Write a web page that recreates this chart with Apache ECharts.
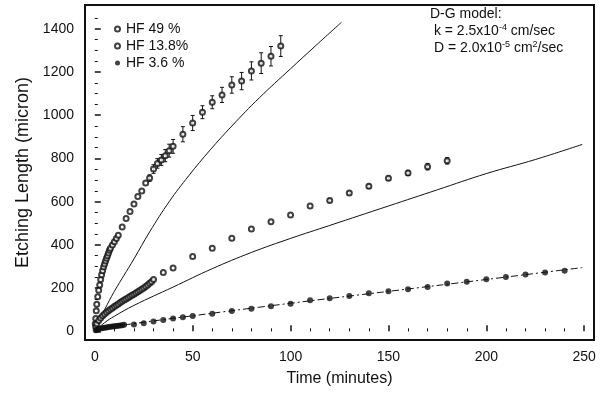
<!DOCTYPE html>
<html>
<head>
<meta charset="utf-8">
<script src="https://cdn.jsdelivr.net/npm/echarts@6/dist/echarts.min.js"></script>
<style>
  html, body { margin: 0; padding: 0; background: #fff; }
  #grafico { width: 605px; height: 394px; }
</style>
</head>
<body>
<div id="grafico"></div>
<script>
// HF 49 %
var hf49Time = [0.25, 0.5, 0.75, 1, 1.5, 2, 2.5, 3, 3.5, 4, 4.5, 5, 5.5, 6, 6.5, 7, 7.5, 8, 9, 10, 11, 12, 14, 16, 18, 20, 22, 24, 26, 28, 30, 32, 34, 36, 38, 40, 45, 50, 55, 60, 65, 70, 75, 80, 85, 90, 95];
var hf49Len = [35, 60, 95, 125, 160, 190, 215, 240, 262, 280, 298, 312, 325, 338, 350, 363, 375, 385, 400, 415, 430, 445, 483, 522, 555, 589, 624, 649, 686, 709, 751, 777, 793, 813, 836, 856, 912, 964, 1014, 1060, 1094, 1140, 1158, 1205, 1241, 1273, 1320];
var hf49Err = [0, 0, 0, 0, 0, 0, 0, 0, 0, 0, 0, 0, 0, 0, 0, 0, 0, 0, 0, 0, 0, 0, 0, 0, 0, 0, 0, 0, 0, 15, 20, 22, 25, 28, 30, 32, 35, 35, 30, 30, 35, 38, 40, 42, 48, 45, 48];

// HF 13.8 %
var hf138Time = [0.5, 1, 2, 3, 4, 5, 6, 7, 8, 9, 10, 11, 12, 13, 14, 15, 16, 17, 18, 19, 20, 21, 22, 23, 24, 25, 26, 27, 28, 29, 30, 35, 40, 50, 60, 70, 80, 90, 100, 110, 120, 130, 140, 150, 160, 170, 180];
var hf138Len = [20, 35, 50, 62, 72, 80, 88, 95, 102, 108, 115, 121, 127, 133, 139, 145, 150, 156, 161, 167, 172, 178, 183, 189, 195, 201, 208, 215, 222, 230, 240, 272, 293, 346, 385, 431, 474, 507, 538, 580, 606, 640, 671, 708, 733, 762, 789];
var hf138Err = [0, 0, 0, 0, 0, 0, 0, 0, 0, 0, 0, 0, 0, 0, 0, 0, 0, 0, 0, 0, 0, 0, 0, 0, 0, 0, 0, 0, 0, 0, 0, 0, 0, 0, 0, 0, 0, 0, 0, 0, 8, 8, 10, 10, 12, 15, 15];

// HF 3.6 %
var hf36Time = [0.5, 1, 2, 3, 4, 5, 6, 7, 8, 9, 10, 11, 12, 13, 14, 15, 20, 25, 30, 35, 40, 45, 50, 60, 70, 80, 90, 100, 110, 120, 130, 140, 150, 160, 170, 180, 190, 200, 210, 220, 230, 240];
var hf36Len = [5, 8, 11, 13, 15, 17, 18, 20, 21, 22, 24, 25, 26, 27, 28, 30, 32, 37, 46, 52, 59, 65, 71, 82, 94, 105, 116, 128, 144, 153, 164, 176, 185, 195, 205, 221, 230, 241, 252, 263, 272, 280];

// D-G model curves
var model49Time = [0, 2, 5, 10, 20, 28, 38, 48, 59, 70, 84, 100, 112, 126];
var model49Len = [0, 45, 100, 185, 335, 460, 600, 720, 840, 950, 1080, 1215, 1315, 1430];
var model138Time = [0, 5, 10, 20, 40, 60, 80, 100, 120, 150, 175, 200, 225, 249];
var model138Len = [0, 40, 70, 120, 205, 290, 365, 430, 490, 580, 655, 730, 795, 865];
var fit36Time = [0, 5, 10, 20, 50, 100, 150, 200, 249];
var fit36Len = [0, 14, 22, 36, 72, 130, 185, 240, 295];

// ticks
var xTickLabels = [0, 50, 100, 150, 200, 250];
var xMinorTicks = [10, 20, 30, 40, 60, 70, 80, 90, 110, 120, 130, 140, 160, 170, 180, 190, 210, 220, 230, 240];
var yTickLabels = [0, 200, 400, 600, 800, 1000, 1200, 1400];
var yMinorTicks = [50, 100, 150, 250, 300, 350, 450, 500, 550, 650, 700, 750, 850, 900, 950, 1050, 1100, 1150, 1250, 1300, 1350, 1450];

var legendNames = ['HF 49 %', 'HF 13.8%', 'HF 3.6 %'];

var FONT = 'Liberation Sans';
var INK = '#111';

function zip(a, b, c) {
  return a.map(function (v, i) { return c ? [v, b[i], c[i]] : [v, b[i]]; });
}

function errorBars(params, api) {
  var err = api.value(2);
  if (!err) return null;
  var x = api.value(0), y = api.value(1);
  var hi = api.coord([x, y + err]);
  var lo = api.coord([x, y - err]);
  var style = { stroke: INK, lineWidth: 1 };
  return {
    type: 'group',
    children: [
      { type: 'line', shape: { x1: hi[0], y1: hi[1], x2: lo[0], y2: lo[1] }, style: style },
      { type: 'line', shape: { x1: hi[0] - 2, y1: hi[1], x2: hi[0] + 2, y2: hi[1] }, style: style },
      { type: 'line', shape: { x1: lo[0] - 2, y1: lo[1], x2: lo[0] + 2, y2: lo[1] }, style: style }
    ]
  };
}

var chartDom = document.getElementById('grafico');
var myChart = echarts.init(chartDom, null, { renderer: 'canvas' });

var baseX = {
  type: 'value', min: -5, max: 255,
  splitLine: { show: false },
  axisLine: { show: false }
};
var baseY = {
  type: 'value', min: -40, max: 1510,
  splitLine: { show: false },
  axisLine: { show: false }
};
var plain = function (v) { return String(v); };

var option = {
  animation: false,
  textStyle: { fontFamily: FONT },
  grid: {
    left: 85, right: 11, top: 5, bottom: 54,
    show: true, borderColor: INK, borderWidth: 2, backgroundColor: 'transparent'
  },
  legend: {
    data: legendNames,
    orient: 'vertical',
    left: 109, top: 17,
    itemWidth: 5, itemHeight: 5, itemGap: 3,
    textStyle: { fontFamily: FONT, fontSize: 14, color: INK, lineHeight: 14, padding: [0, 0, 0, 1] }
  },
  xAxis: [
    Object.assign({}, baseX, {
      name: 'Time (minutes)', nameLocation: 'middle', nameGap: 31,
      nameTextStyle: { fontFamily: FONT, fontSize: 16, color: INK },
      axisTick: { inside: true, length: 6, lineStyle: { color: INK, width: 1.5 }, customValues: xTickLabels },
      axisLabel: { fontFamily: FONT, fontSize: 14, color: INK, margin: 10, customValues: xTickLabels, formatter: plain }
    }),
    Object.assign({}, baseX, {
      position: 'bottom',
      axisTick: { inside: true, length: 3, lineStyle: { color: INK }, customValues: xMinorTicks },
      axisLabel: { show: false }
    })
  ],
  yAxis: [
    Object.assign({}, baseY, {
      name: 'Etching Length (micron)', nameLocation: 'middle', nameGap: 48,
      nameTextStyle: { fontFamily: FONT, fontSize: 18, color: INK },
      axisTick: { inside: true, length: 6, lineStyle: { color: INK, width: 1.5 }, customValues: yTickLabels },
      axisLabel: { fontFamily: FONT, fontSize: 14, color: INK, margin: 11, customValues: yTickLabels, formatter: plain }
    }),
    Object.assign({}, baseY, {
      position: 'left',
      axisTick: { inside: true, length: 3, lineStyle: { color: INK }, customValues: yMinorTicks },
      axisLabel: { show: false }
    })
  ],
  graphic: [
    {
      type: 'text', left: 430, top: 6,
      style: {
        text: 'D-G model:\n {n|k = 2.5x10}{s|-4}{n| cm/sec}\n {n|D = 2.0x10}{s|-5}{n| cm}{s|2}{n|/sec}',
        fontFamily: FONT, fontSize: 14, fill: INK, lineHeight: 17,
        rich: {
          n: { fontFamily: FONT, fontSize: 14, fill: INK, lineHeight: 17 },
          s: { fontFamily: FONT, fontSize: 9, fill: INK, lineHeight: 17, verticalAlign: 'top', padding: [0, 0, 8, 0] }
        }
      }
    }
  ],
  series: [
    {
      type: 'line', name: 'model49', data: zip(model49Time, model49Len), smooth: 0.4,
      symbol: 'none', lineStyle: { color: INK, width: 1 }, silent: true
    },
    {
      type: 'line', name: 'model138', data: zip(model138Time, model138Len), smooth: 0.4,
      symbol: 'none', lineStyle: { color: INK, width: 1 }, silent: true
    },
    {
      type: 'line', name: 'fit36', data: zip(fit36Time, fit36Len), smooth: 0.4,
      symbol: 'none', lineStyle: { color: INK, width: 1, type: [7, 3, 2, 3] }, silent: true
    },
    {
      type: 'custom', name: 'err49', renderItem: errorBars,
      data: zip(hf49Time, hf49Len, hf49Err), z: 3
    },
    {
      type: 'custom', name: 'err138', renderItem: errorBars,
      data: zip(hf138Time, hf138Len, hf138Err), z: 3
    },
    {
      type: 'scatter', name: legendNames[0], data: zip(hf49Time, hf49Len),
      symbol: 'emptyCircle', symbolSize: 5,
      itemStyle: { color: INK, borderWidth: 1 }, z: 4
    },
    {
      type: 'scatter', name: legendNames[1], data: zip(hf138Time, hf138Len),
      symbol: 'emptyCircle', symbolSize: 5,
      itemStyle: { color: INK, borderWidth: 1 }, z: 4
    },
    {
      type: 'scatter', name: legendNames[2], data: zip(hf36Time, hf36Len),
      symbol: 'circle', symbolSize: 6,
      itemStyle: { color: INK }, z: 4
    }
  ]
};

option && myChart.setOption(option);
</script>
</body>
</html>
